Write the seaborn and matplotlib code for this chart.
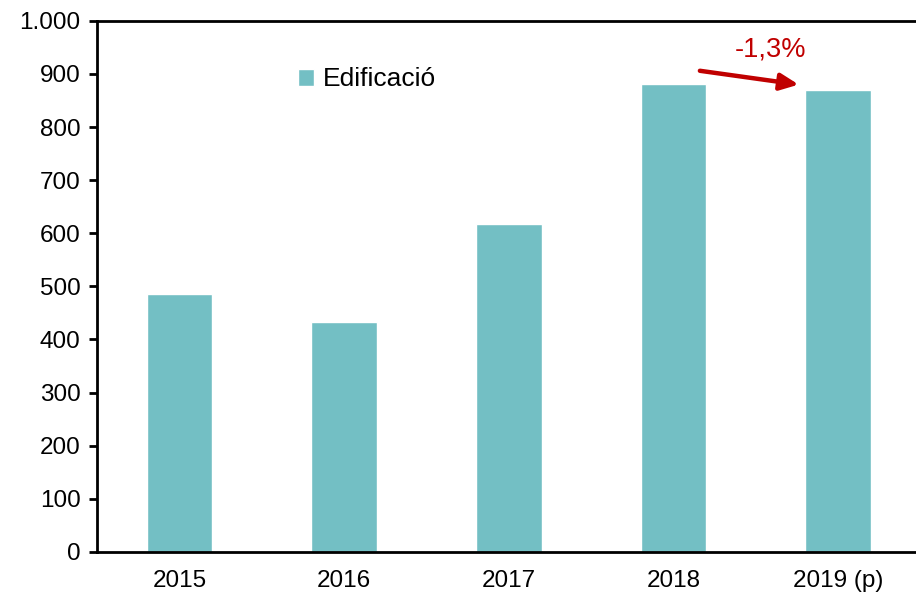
import numpy as np
import pandas as pd
import seaborn as sns
import matplotlib.pyplot as plt

years = ["2015", "2016", "2017", "2018", "2019 (p)"]
edificacio = [486, 433, 618, 881, 869]
change_label = "-1,3%"

df = pd.DataFrame({"year": years, "Edificació": edificacio})

sns.set_style("white")
plt.rcParams["font.family"] = ["Liberation Sans", "DejaVu Sans"]
plt.rcParams["text.color"] = "black"
plt.rcParams["xtick.color"] = "black"
plt.rcParams["ytick.color"] = "black"

fig = plt.figure(figsize=(9.16, 5.96), dpi=100)
ax = fig.add_axes([0.106, 0.074, 0.899, 0.891])

sns.barplot(data=df, x="year", y="Edificació", color="#73BFC4", width=0.4,
            saturation=1, ax=ax, label="Edificació")

ax.set_xlim(-0.5, 4.5)
ax.set_ylim(0, 1000)
ax.set_yticks(range(0, 1001, 100))
ax.set_yticklabels([f"{v:,}".replace(",", ".") for v in range(0, 1001, 100)])
ax.set_xlabel("")
ax.set_ylabel("")

for side in ["left", "bottom", "top"]:
    ax.spines[side].set_visible(True)
    ax.spines[side].set_linewidth(2.0)
    ax.spines[side].set_color("black")
ax.spines["right"].set_visible(False)

ax.tick_params(axis="y", direction="out", length=6, width=2.0, labelsize=17.5,
               left=True, pad=6)
ax.tick_params(axis="x", length=0, labelsize=17.5, pad=13)

leg = ax.legend(loc="upper left", bbox_to_anchor=(0.215, 0.957), frameon=False,
                fontsize=19, handlelength=0.6, handleheight=0.6,
                handletextpad=0.35)
for t in leg.get_texts():
    t.set_color("black")

# change annotation between 2018 and 2019
ax.annotate("", xy=(3.76, 880), xytext=(3.16, 906),
            arrowprops=dict(arrowstyle="-|>,head_length=1.1,head_width=0.5",
                            color="#C00000", lw=3.2, shrinkA=0, shrinkB=0))
ax.text(3.59, 946, change_label, color="#C00000", fontsize=19.5,
        ha="center", va="center")

fig.savefig("out.png", dpi=100)
